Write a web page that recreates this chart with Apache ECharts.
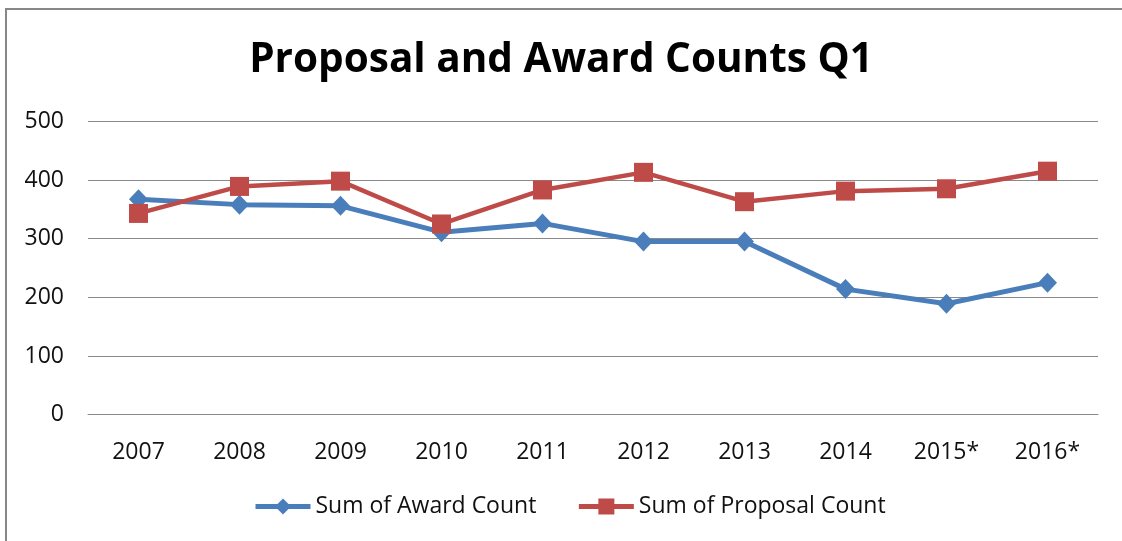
<!DOCTYPE html>
<html>
<head>
<meta charset="utf-8">
<script src="https://cdn.jsdelivr.net/npm/echarts@6/dist/echarts.min.js"></script>
<style>html,body{margin:0;padding:0;background:#fff;}#c{width:1122px;height:541px;}</style>
</head>
<body>
<div id="c"></div>
<script>
const categories = ['2007','2008','2009','2010','2011','2012','2013','2014','2015*','2016*'];
const awardCounts = [367, 358, 356, 311, 326, 295, 295, 214, 189, 225];
const proposalCounts = [343, 389, 398, 325, 383, 413, 363, 381, 385, 415];
const yTicks = [0, 100, 200, 300, 400, 500];
const seriesNames = ['Sum of Award Count', 'Sum of Proposal Count'];
const titleText = 'Proposal and Award Counts Q1';

const FONT = "'Open Sans', 'Noto Sans', sans-serif";
const chart = echarts.init(document.getElementById('c'), null, {renderer: 'canvas'});
chart.setOption({
  backgroundColor: '#fff',
  animation: false,
  graphic: [
    {type: 'line', silent: true, shape: {x1: 5, y1: 9, x2: 1122, y2: 9}, style: {stroke: '#878787', lineWidth: 2}},
    {type: 'line', silent: true, shape: {x1: 6, y1: 8, x2: 6, y2: 541}, style: {stroke: '#878787', lineWidth: 2}}
  ],
  title: {
    text: titleText, left: 'center', top: 35, padding: [5, 5, 5, 16],
    textStyle: {fontFamily: FONT, fontWeight: 'bold', fontSize: 40.5, color: '#000'}
  },
  grid: {left: 88, right: 24, top: 121.3, bottom: 126.3, containLabel: false},
  legend: {
    data: seriesNames, top: 490, left: 248, itemWidth: 55, itemHeight: 20, itemGap: 40,
    lineStyle: {width: 5},
    textStyle: {fontFamily: FONT, fontSize: 23, color: '#111'}
  },
  xAxis: {
    type: 'category', data: categories, boundaryGap: true,
    axisLine: {lineStyle: {color: '#8a8a8a', width: 1}},
    axisTick: {show: false},
    axisLabel: {fontFamily: FONT, fontSize: 23, color: '#111', margin: 26, interval: 0}
  },
  yAxis: {
    type: 'value', min: yTicks[0], max: yTicks[yTicks.length - 1], interval: 100,
    axisLine: {show: false}, axisTick: {show: false},
    splitLine: {lineStyle: {color: '#8a8a8a', width: 1}},
    axisLabel: {fontFamily: FONT, fontSize: 23, color: '#111', margin: 24}
  },
  series: [{
    name: seriesNames[0], type: 'line', data: awardCounts,
    symbol: 'diamond', symbolSize: [19, 20], showAllSymbol: true,
    lineStyle: {color: '#4a7ebb', width: 5},
    itemStyle: {color: '#4a7ebb'}, z: 2
  }, {
    name: seriesNames[1], type: 'line', data: proposalCounts,
    symbol: 'rect', symbolSize: 19, showAllSymbol: true,
    lineStyle: {color: '#be4b48', width: 4.5},
    itemStyle: {color: '#be4b48'}, z: 3
  }]
});
</script>
</body>
</html>
